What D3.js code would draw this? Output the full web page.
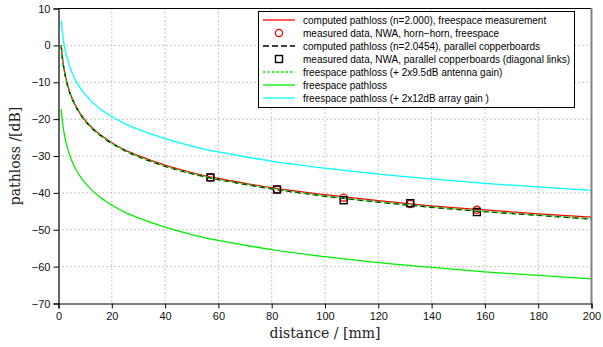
<!DOCTYPE html>
<html>
<head>
<meta charset="utf-8">
<script src="https://cdn.jsdelivr.net/npm/d3@7"></script>
<style>
  html, body { margin: 0; padding: 0; background: #fff; }
  svg { display: block; }
</style>
</head>
<body>
<div id="chart"></div>
<script>
const width = 603,
      height = 347;

// sample distances [mm] for the curves
const distance = [1, 1.25, 1.5, 2, 2.5, 3, 4, 5, 6, 8, 10, 13, 16, 20, 25, 30, 40, 50, 60, 70, 80, 100, 120, 140, 160, 180, 200];

// curves [dB]
const computedFreespace = [0, -2.0, -3.6, -6.1, -8.1, -9.7, -12.2, -14.2, -15.8, -18.3, -20.3, -22.6, -24.4, -26.4, -28.4, -29.9, -32.5, -34.5, -36.1, -37.4, -38.6, -40.5, -42.1, -43.5, -44.6, -45.7, -46.6];
const computedCopper = [0, -2.0, -3.6, -6.2, -8.1, -9.8, -12.3, -14.3, -15.9, -18.5, -20.5, -22.8, -24.6, -26.6, -28.6, -30.2, -32.8, -34.8, -36.4, -37.7, -38.9, -40.9, -42.5, -43.9, -45.1, -46.1, -47.1];
const freespaceAntenna = [0.1, -1.9, -3.5, -6.1, -8.1, -9.7, -12.3, -14.3, -15.9, -18.4, -20.4, -22.7, -24.5, -26.5, -28.5, -30.1, -32.7, -34.7, -36.3, -37.6, -38.8, -40.8, -42.4, -43.8, -45.0, -46.0, -47.0];
const freespacePL = [-17.3, -19.2, -20.8, -23.3, -25.3, -26.8, -29.3, -31.3, -32.9, -35.4, -37.3, -39.6, -41.4, -43.3, -45.3, -46.8, -49.3, -51.3, -52.9, -54.2, -55.4, -57.3, -58.9, -60.2, -61.4, -62.4, -63.3];
const freespaceArray = [6.7, 4.8, 3.2, 0.7, -1.3, -2.8, -5.3, -7.3, -8.9, -11.4, -13.3, -15.6, -17.4, -19.3, -21.3, -22.8, -25.3, -27.3, -28.9, -30.2, -31.4, -33.3, -34.9, -36.2, -37.4, -38.4, -39.3];

// measured points
const measDist = [57, 82, 107, 132, 157];
const measFreespace = [-35.8, -39.0, -41.3, -43.0, -44.6];
const measCopper = [-35.8, -39.1, -42.0, -42.8, -45.2];

// ticks
const xTicks = [0, 20, 40, 60, 80, 100, 120, 140, 160, 180, 200];
const yTicks = [10, 0, -10, -20, -30, -40, -50, -60, -70];

const legendLabels = [
  'computed pathloss (n=2.000), freespace measurement',
  'measured data, NWA, horn\u2212horn, freespace',
  'computed pathloss (n=2.0454), parallel copperboards',
  'measured data, NWA, parallel copperboards (diagonal links)',
  'freespace pathloss (+ 2x9.5dB antenna gain)',
  'freespace pathloss',
  'freespace pathloss (+ 2x12dB array gain )'
];

const x = d3.scaleLinear().domain([0, 200]).range([58.5, 591.5]);
const y = d3.scaleLinear().domain([-70, 10]).range([303.5, 8.5]);

const svg = d3.select('#chart').append('svg')
  .attr('width', width)
  .attr('height', height)
  .style('font-family', '"Liberation Sans", Arial, sans-serif');

svg.append('rect').attr('width', width).attr('height', height).attr('fill', '#fff');

svg.append('defs').append('clipPath').attr('id', 'plotclip')
  .append('rect')
  .attr('x', x(0)).attr('y', y(10))
  .attr('width', x(200) - x(0)).attr('height', y(-70) - y(10));

// grid
const grid = svg.append('g');
grid.selectAll('line.gx').data(xTicks.slice(1, -1)).enter().append('line')
  .attr('x1', d => x(d)).attr('x2', d => x(d))
  .attr('y1', y(10)).attr('y2', y(-70))
  .attr('stroke', '#b4b4b4').attr('stroke-dasharray', '1.5,2.5');
grid.selectAll('line.gy').data(yTicks.slice(1, -1)).enter().append('line')
  .attr('x1', x(0)).attr('x2', x(200))
  .attr('y1', d => y(d)).attr('y2', d => y(d))
  .attr('stroke', '#b4b4b4').attr('stroke-dasharray', '1.5,2.5');

// curves
const series = [
  { vals: computedFreespace, color: '#ff0000', dash: null },
  { vals: computedCopper, color: '#000', dash: '6,3' },
  { vals: freespaceAntenna, color: '#00e600', dash: '2.5,2' },
  { vals: freespacePL, color: '#00ee00', dash: null },
  { vals: freespaceArray, color: '#00ffff', dash: null }
];

const line = d3.line()
  .x(d => x(d[0]))
  .y(d => y(d[1]))
  .curve(d3.curveMonotoneX);

const plot = svg.append('g').attr('clip-path', 'url(#plotclip)');

function drawCurve(s) {
  plot.append('path')
    .datum(distance.map((d, i) => [d, s.vals[i]]))
    .attr('d', line)
    .attr('fill', 'none')
    .attr('stroke', s.color)
    .attr('stroke-width', 1.3)
    .attr('stroke-dasharray', s.dash);
}

drawCurve(series[0]);
plot.selectAll('circle.mf').data(measDist).enter().append('circle')
  .attr('cx', d => x(d))
  .attr('cy', (d, i) => y(measFreespace[i]))
  .attr('r', 3.6)
  .attr('fill', 'none').attr('stroke', '#ff0000').attr('stroke-width', 1.3);
drawCurve(series[1]);
plot.selectAll('rect.mc').data(measDist).enter().append('rect')
  .attr('x', d => x(d) - 3.5)
  .attr('y', (d, i) => y(measCopper[i]) - 3.5)
  .attr('width', 7).attr('height', 7)
  .attr('fill', 'none').attr('stroke', '#000').attr('stroke-width', 1.4);
drawCurve(series[2]);
drawCurve(series[3]);
drawCurve(series[4]);

// axes frame
svg.append('line').attr('x1', x(0)).attr('x2', x(200)).attr('y1', y(10)).attr('y2', y(10))
  .attr('stroke', '#000').attr('stroke-width', 1);
svg.append('line').attr('x1', x(200)).attr('x2', x(200)).attr('y1', y(10)).attr('y2', y(-70))
  .attr('stroke', '#808080').attr('stroke-width', 2);

const xAxis = svg.append('g')
  .attr('transform', `translate(0,${y(-70)})`)
  .call(d3.axisBottom(x).tickValues(xTicks).tickSize(5).tickPadding(4).tickFormat(d3.format('d')));
const yAxis = svg.append('g')
  .attr('transform', `translate(${x(0)},0)`)
  .call(d3.axisLeft(y).tickValues(yTicks).tickSize(5).tickPadding(3)
    .tickFormat(d => d < 0 ? '\u2212' + Math.abs(d) : d));

[xAxis, yAxis].forEach(a => {
  a.select('.domain').attr('stroke', '#000').attr('stroke-width', 1.2);
  a.selectAll('.tick line').attr('stroke', '#000');
  a.selectAll('.tick text')
    .attr('fill', '#111')
    .style('font-family', '"Liberation Sans", Arial, sans-serif')
    .style('font-size', '11px');
});

// axis titles
svg.append('text')
  .attr('x', (x(0) + x(200)) / 2)
  .attr('y', 338)
  .attr('text-anchor', 'middle')
  .attr('fill', '#222')
  .style('font-family', '"DejaVu Serif", "Liberation Serif", serif')
  .style('font-size', '14px')
  .text('distance / [mm]');
svg.append('text')
  .attr('transform', `translate(20,${(y(10) + y(-70)) / 2}) rotate(-90)`)
  .attr('text-anchor', 'middle')
  .attr('fill', '#222')
  .style('font-family', '"DejaVu Serif", "Liberation Serif", serif')
  .style('font-size', '14px')
  .text('pathloss /[dB]');

// legend
const legendRight = 574,
      legendTop = 11,
      rowH = 13,
      sampleW = 32;

const rowY = i => legendTop + 9 + i * rowH;

const legend = svg.append('g');
const box = legend.append('rect');
const texts = legend.selectAll('text').data(legendLabels).enter().append('text')
  .attr('y', (d, i) => rowY(i))
  .attr('dy', '0.35em')
  .style('font-size', '10px')
  .attr('fill', '#000')
  .text(d => d);

const maxW = d3.max(texts.nodes(), n => n.getComputedTextLength());
const textX = legendRight - 4 - maxW;
const sampleX0 = textX - 8 - sampleW;
const legendLeft = sampleX0 - 5;
texts.attr('x', textX);

box.attr('x', legendLeft + 0.5).attr('y', legendTop + 0.5)
  .attr('width', legendRight - legendLeft)
  .attr('height', 7 * rowH + 5)
  .attr('fill', '#fff').attr('stroke', '#000').attr('stroke-width', 1);

const sampleMid = sampleX0 + sampleW / 2;
const legendLines = [
  { row: 0, color: '#ff0000', dash: null },
  { row: 2, color: '#000', dash: '6,3' },
  { row: 4, color: '#00e600', dash: '2.5,2' },
  { row: 5, color: '#00ee00', dash: null },
  { row: 6, color: '#00ffff', dash: null }
];
legend.selectAll('line.ll').data(legendLines).enter().append('line')
  .attr('x1', sampleX0).attr('x2', sampleX0 + sampleW)
  .attr('y1', d => rowY(d.row)).attr('y2', d => rowY(d.row))
  .attr('stroke', d => d.color).attr('stroke-width', 1.3)
  .attr('stroke-dasharray', d => d.dash);
legend.append('circle').attr('cx', sampleMid).attr('cy', rowY(1)).attr('r', 3.6)
  .attr('fill', 'none').attr('stroke', '#ff0000').attr('stroke-width', 1.3);
legend.append('rect').attr('x', sampleMid - 3.5).attr('y', rowY(3) - 3.5)
  .attr('width', 7).attr('height', 7)
  .attr('fill', 'none').attr('stroke', '#000').attr('stroke-width', 1.4);
</script>
</body>
</html>
